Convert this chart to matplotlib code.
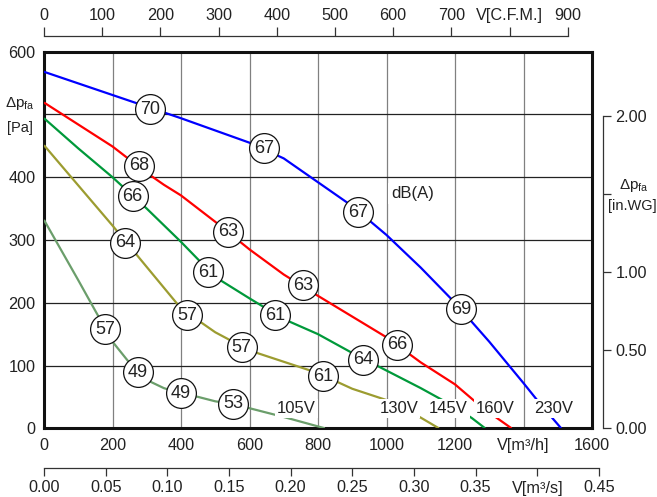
import matplotlib
matplotlib.use("Agg")
import matplotlib.pyplot as plt

plt.rcParams['font.family'] = ['Liberation Sans', 'DejaVu Sans']
plt.rcParams['mathtext.fontset'] = 'custom'
plt.rcParams['mathtext.rm'] = 'Liberation Sans'
plt.rcParams['mathtext.it'] = 'Liberation Sans:italic'

# ---------------- data (V in m3/h, dp in Pa) ----------------
V_230 = [0, 200, 400, 600, 700, 800, 900, 1000, 1100, 1200, 1300, 1400, 1450, 1510]
P_230 = [568, 531, 494, 455, 430, 392, 354, 308, 256, 200, 138, 72, 38, 0]

V_160 = [0, 100, 200, 300, 350, 400, 500, 600, 700, 800, 900, 1000, 1100, 1200, 1260, 1300, 1365]
P_160 = [519, 484, 449, 407, 388, 371, 329, 285, 245, 211, 178, 145, 105, 70, 42, 25, 0]

V_145 = [0, 100, 200, 300, 400, 500, 600, 700, 800, 900, 1000, 1100, 1200, 1250, 1288]
P_145 = [494, 446, 400, 350, 297, 241, 207, 174, 150, 120, 92, 64, 34, 16, 0]

V_130 = [0, 100, 200, 300, 400, 500, 600, 700, 800, 900, 1000, 1100, 1153]
P_130 = [451, 387, 323, 257, 191, 153, 124, 106, 88, 63, 45, 17, 0]

V_105 = [0, 50, 100, 150, 180, 200, 250, 275, 300, 350, 400, 450, 500, 550, 600, 700, 800, 820]
P_105 = [332, 284, 236, 187, 158, 138, 104, 89, 77, 64, 56, 50, 43, 39, 32, 18, 3, 0]

curve_names = ['230V', '160V', '145V', '130V', '105V']

# noise level markers dB(A)
db_V = [310, 642, 918, 1217, 277, 538, 757, 1032, 259, 480, 674, 932, 236, 417, 577, 816, 178, 275, 399, 553]
db_P = [508, 446, 344, 190, 418, 313, 228, 133, 370, 249, 180, 109, 296, 180, 129, 83, 158, 89, 56, 39]
db_txt = ['70', '67', '67', '69', '68', '63', '63', '66', '66', '61', '61', '64', '64', '57', '57', '61', '57', '49', '49', '53']

# voltage labels
volt_V = [736, 1036, 1180, 1317, 1487]
volt_P = [31, 31, 31, 31, 31]
volt_txt = ['105V', '130V', '145V', '160V', '230V']

x_ticks = [0, 200, 400, 600, 800, 1000, 1200, 1400, 1600]
x_ticklabels = ['0', '200', '400', '600', '800', '1000', '1200', 'V[m³/h]', '1600']
y_ticks = [0, 100, 200, 300, 400, 500, 600]
y_ticklabels = ['0', '100', '200', '300', '400', '', '600']

cfm_ticks = [0, 100, 200, 300, 400, 500, 600, 700, 800, 900]
cfm_labels = ['0', '100', '200', '300', '400', '500', '600', '700', 'V[C.F.M.]', '900']

ms_ticks = [0.0, 0.05, 0.10, 0.15, 0.20, 0.25, 0.30, 0.35, 0.40, 0.45]
ms_labels = ['0.00', '0.05', '0.10', '0.15', '0.20', '0.25', '0.30', '0.35', 'V[m³/s]', '0.45']

wg_ticks = [0.0, 0.5, 1.0, 1.5, 2.0]
wg_labels = ['0.00', '0.50', '1.00', '', '2.00']

# ---------------- figure ----------------
W, H = 657, 497
fig = plt.figure(figsize=(W / 100, H / 100), dpi=100)

L, R, T, B = 44, 592, 51.7, 428.3
ax = fig.add_axes([L / W, 1 - B / H, (R - L) / W, (B - T) / H])
ax.set_xlim(0, 1600)
ax.set_ylim(0, 600)
ax.set_xticks(x_ticks)
ax.set_xticklabels(x_ticklabels)
ax.set_yticks(y_ticks)
ax.set_yticklabels(y_ticklabels)
ax.tick_params(length=0, labelsize=11.7, colors='#222222')
ax.tick_params(axis='x', pad=7)
ax.tick_params(axis='y', pad=6)
ax.xaxis.grid(True, color='#808080', lw=0.9)
ax.yaxis.grid(True, color='#222222', lw=0.9)
ax.set_axisbelow(True)
for s in ax.spines.values():
    s.set_linewidth(2.2)
    s.set_color('#111111')

colors = ['#0000ff', '#ff0000', '#00993a', '#9c9c30', '#6b9e6b']
series = [(V_230, P_230), (V_160, P_160), (V_145, P_145), (V_130, P_130), (V_105, P_105)]
for (v, p), c, n in zip(series, colors, curve_names):
    ax.plot(v, p, color=c, lw=1.6, label=n, zorder=3, solid_capstyle='butt')

ax.scatter(db_V, db_P, s=460, facecolor='white', edgecolor='#111111', linewidths=0.9, zorder=5)
for v, p, t in zip(db_V, db_P, db_txt):
    ax.text(v, p, t, ha='center', va='center', fontsize=13, color='#222222', zorder=6)

for v, p, t in zip(volt_V, volt_P, volt_txt):
    ax.text(v, p, t, ha='center', va='center', fontsize=12, color='#222222', zorder=4,
            bbox=dict(boxstyle='square,pad=0.12', fc='white', ec='none'))

ax.text(1076, 374, 'dB(A)', ha='center', va='center', fontsize=12, color='#222222', zorder=4,
        bbox=dict(boxstyle='square,pad=0.2', fc='white', ec='none'))

# left unit label
fig.text(20 / W, 1 - 104 / H, r'$\mathregular{\Delta p_{fa}}$', ha='center', va='center', fontsize=11, color='#222222')
fig.text(20 / W, 1 - 128 / H, '[Pa]', ha='center', va='center', fontsize=10.5, color='#222222')

# top C.F.M. axis
axt = fig.add_axes([L / W, 1 - 36 / H, (567.7 - L) / W, 0.0001])
axt.set_xlim(0, 900)
axt.set_facecolor('none')
for k in ['left', 'right', 'bottom']:
    axt.spines[k].set_visible(False)
axt.spines['top'].set_color('#333333')
axt.spines['top'].set_linewidth(0.9)
axt.yaxis.set_visible(False)
axt.xaxis.tick_top()
axt.set_xticks(cfm_ticks)
axt.set_xticklabels(cfm_labels)
axt.tick_params(axis='x', direction='out', length=6.5, width=0.9, color='#333333',
                labelsize=11.7, labelcolor='#222222', pad=3, bottom=False, labelbottom=False)

# bottom m3/s axis
axb = fig.add_axes([L / W, 1 - 468 / H, (598.9 - L) / W, 0.0001])
axb.set_xlim(0, 0.45)
axb.set_facecolor('none')
for k in ['left', 'right', 'top']:
    axb.spines[k].set_visible(False)
axb.spines['bottom'].set_color('#333333')
axb.spines['bottom'].set_linewidth(0.9)
axb.yaxis.set_visible(False)
axb.set_xticks(ms_ticks)
axb.set_xticklabels(ms_labels)
axb.tick_params(axis='x', direction='out', length=6, width=0.9, color='#333333',
                labelsize=11.7, labelcolor='#222222', pad=3)

# right in.WG axis
axr = fig.add_axes([603 / W, 1 - B / H, 0.0001, (B - T) / H])
axr.set_ylim(0, 600 / 249.09)
axr.set_facecolor('none')
for k in ['left', 'top', 'bottom']:
    axr.spines[k].set_visible(False)
axr.spines['right'].set_color('#333333')
axr.spines['right'].set_linewidth(0.9)
axr.spines['right'].set_bounds(0, 2.0)
axr.xaxis.set_visible(False)
axr.yaxis.tick_right()
axr.set_yticks(wg_ticks)
axr.set_yticklabels(wg_labels)
axr.tick_params(axis='y', direction='out', length=6, width=0.9, color='#333333',
                labelsize=11.7, labelcolor='#222222', pad=3, left=False, labelleft=False)

fig.text(634 / W, 1 - 186 / H, r'$\mathregular{\Delta p_{fa}}$', ha='center', va='center', fontsize=11, color='#222222')
fig.text(632 / W, 1 - 206 / H, '[in.WG]', ha='center', va='center', fontsize=10.5, color='#222222')

fig.savefig('out.png', dpi=100)
